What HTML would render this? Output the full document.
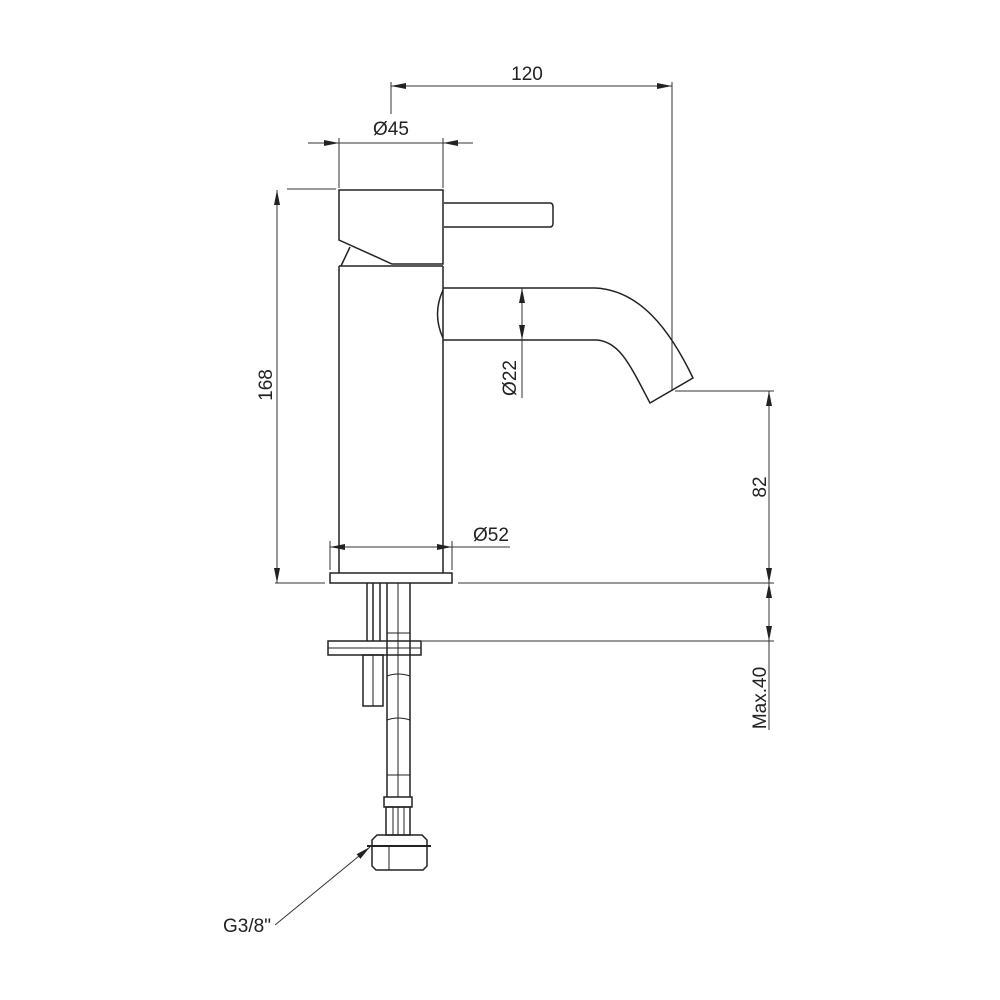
<!DOCTYPE html>
<html><head><style>html,body{margin:0;padding:0;background:#fff}svg{display:block}text{font-family:"Liberation Sans",Arial,sans-serif;fill:#222;font-size:19px}</style></head><body>
<svg width="1000" height="1000" viewBox="0 0 1000 1000" xmlns="http://www.w3.org/2000/svg">
<defs>
<marker id="a" viewBox="0 0 15 6" refX="15" refY="3" markerWidth="15" markerHeight="6" markerUnits="userSpaceOnUse" orient="auto-start-reverse"><path d="M0,0L15,3L0,6z" fill="#222"/></marker>
</defs>
<g stroke="#333" stroke-width="1" fill="none">
<line x1="391" y1="86" x2="672" y2="86" marker-start="url(#a)" marker-end="url(#a)"/>
<line x1="391" y1="82" x2="391" y2="114"/>
<line x1="672" y1="82" x2="672" y2="391"/>
<line x1="308" y1="143" x2="339" y2="143" marker-end="url(#a)"/>
<line x1="339" y1="143" x2="443" y2="143"/>
<line x1="473" y1="143" x2="443" y2="143" marker-end="url(#a)"/>
<line x1="339" y1="138" x2="339" y2="188"/>
<line x1="443" y1="138" x2="443" y2="188"/>
<line x1="277" y1="190" x2="277" y2="583" marker-start="url(#a)" marker-end="url(#a)"/>
<line x1="287" y1="189" x2="336" y2="189"/>
<line x1="275" y1="583" x2="325" y2="583"/>
<line x1="330" y1="547" x2="452" y2="547" marker-start="url(#a)" marker-end="url(#a)"/>
<line x1="452" y1="547" x2="510" y2="547"/>
<line x1="330" y1="541" x2="330" y2="570"/>
<line x1="452" y1="541" x2="452" y2="570"/>
<line x1="522" y1="288" x2="522" y2="398"/>
<line x1="522" y1="314" x2="522" y2="288" marker-end="url(#a)"/>
<line x1="522" y1="314" x2="522" y2="340" marker-end="url(#a)"/>
<line x1="769" y1="391" x2="769" y2="583" marker-start="url(#a)" marker-end="url(#a)"/>
<line x1="769" y1="583" x2="769" y2="730"/>
<line x1="769" y1="603" x2="769" y2="583" marker-end="url(#a)"/>
<line x1="769" y1="621" x2="769" y2="641" marker-end="url(#a)"/>
<line x1="675" y1="391" x2="774" y2="391"/>
<line x1="458" y1="583" x2="774" y2="583"/>
<line x1="422" y1="641" x2="774" y2="641"/>
<line x1="275" y1="925" x2="370" y2="847" marker-end="url(#a)"/>
</g>
<g stroke="#222" stroke-width="1.5" fill="none">
<path d="M339,190 L443,190 L443,264 L392,264 L339,240 Z"/>
<path d="M350,247 L341,266"/>
<line x1="339" y1="266" x2="443" y2="266"/>
<line x1="339" y1="266" x2="339" y2="573"/>
<line x1="443" y1="266" x2="443" y2="573"/>
<path d="M444,203 L550,203 Q553,203 553,207 L553,223 Q553,227 550,227 L444,227"/>
<path d="M443,288 L595,288 C640,290 670,330 693,378 L650,403 C630,365 620,342 597,340 L443,340"/>
<path d="M443,290 Q432,314 443,338"/>
<rect x="330" y="573" width="122" height="10"/>
<line x1="367" y1="583" x2="367" y2="641"/><line x1="373" y1="583" x2="373" y2="641"/><line x1="380" y1="583" x2="380" y2="641"/>
<line x1="387" y1="583" x2="387" y2="797"/><line x1="410" y1="583" x2="410" y2="797"/>
<line x1="398" y1="583" x2="398" y2="797" stroke-width="1"/>
<line x1="387" y1="633" x2="410" y2="633" stroke-width="1"/>
<rect x="328" y="641" width="93" height="14"/>
<line x1="328" y1="648" x2="421" y2="648" stroke-width="1"/>
<rect x="363" y="655" width="20" height="51"/>
<line x1="373" y1="655" x2="373" y2="706" stroke-width="1"/>
<path d="M387,676 Q398,672 410,676 M387,720 Q398,716 410,720" stroke-width="1"/>
<line x1="387" y1="775" x2="410" y2="775" stroke-width="1"/>
<rect x="384" y="797" width="28" height="10"/>
<rect x="386" y="807" width="24" height="28"/>
<line x1="393" y1="807" x2="393" y2="835" stroke-width="1"/><line x1="398" y1="807" x2="398" y2="835" stroke-width="1"/><line x1="404" y1="807" x2="404" y2="835" stroke-width="1"/>
<path d="M372,840 L377,835 L422,835 L427,840 L427,866 L423,870 L376,870 L372,866 Z"/>
<line x1="367" y1="846" x2="431" y2="846" stroke-width="2"/>
<line x1="389" y1="846" x2="389" y2="870" stroke-width="1"/>
</g>
<text x="527" y="80" text-anchor="middle">120</text>
<text x="391" y="135" text-anchor="middle">Ø45</text>
<text x="491" y="541" text-anchor="middle">Ø52</text>
<text transform="translate(272,385) rotate(-90)" text-anchor="middle">168</text>
<text transform="translate(516,378) rotate(-90)" text-anchor="middle">Ø22</text>
<text transform="translate(766,487) rotate(-90)" text-anchor="middle">82</text>
<text transform="translate(766,698) rotate(-90)" text-anchor="middle">Max.40</text>
<text x="247" y="932" text-anchor="middle">G3/8"</text>
</svg>
</body></html>
